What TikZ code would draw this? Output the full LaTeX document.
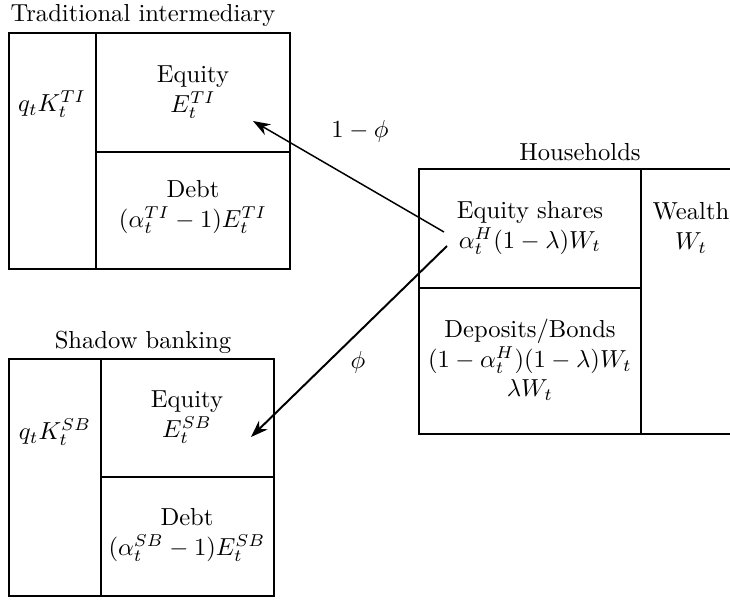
\documentclass[tikz,border=0pt]{standalone}
\usepackage{tikz}
\usetikzlibrary{arrows.meta,positioning,calc}
\usepackage{amsmath}

\begin{document}
\begin{tikzpicture}[
  x=0.01428cm, y=-0.01428cm,
  cell/.style={draw=black, line width=0.45pt},
  txt/.style={align=center, inner sep=1pt},
  ttl/.style={inner sep=1pt},
  arr/.style={-{Stealth[length=7pt,width=5pt]}, semithick},
  barr/.style={-{Stealth[length=7pt,width=5pt]}, thick},
  lbl/.style={inner sep=1pt},
  >=Stealth
]
\useasboundingbox (0,0) rectangle (730,599);

% Traditional intermediary
\draw[cell] (9,33) rectangle (290,269);
\draw[cell] (96,33) -- (96,269);
\draw[cell] (96,152) -- (290,152);
\node[ttl] (ti_title) at (143,15)  {Traditional intermediary};
\node[txt] (ti_k)     at (52,104)  {$q_tK_t^{TI}$};
\node[txt] (ti_eq)    at (193,92)  {Equity\\$E_t^{TI}$};
\node[txt] (ti_debt)  at (193,207) {Debt\\$(\alpha_t^{TI}-1)E_t^{TI}$};

% Shadow banking
\draw[cell] (9,359) rectangle (274,596);
\draw[cell] (101,359) -- (101,596);
\draw[cell] (101,477) -- (274,477);
\node[ttl] (sb_title) at (143,342) {Shadow banking};
\node[txt] (sb_k)     at (55,432)  {$q_tK_t^{SB}$};
\node[txt] (sb_eq)    at (187,417) {Equity\\$E_t^{SB}$};
\node[txt] (sb_debt)  at (187,535) {Debt\\$(\alpha_t^{SB}-1)E_t^{SB}$};

% Households
\draw[cell] (731,169) -- (419,169) -- (419,434) -- (731,434);
\draw[cell] (641,169) -- (641,434);
\draw[cell] (419,288) -- (641,288);
\node[ttl] (hh_title) at (580,152) {Households};
\node[txt] (hh_eq)    at (530,228) {Equity shares\\$\alpha_t^H(1-\lambda)W_t$};
\node[txt] (hh_w)     at (691,228) {Wealth\\$W_t$};
\node[txt] (hh_dep)   at (530,360) {Deposits/Bonds\\$(1-\alpha_t^H)(1-\lambda)W_t$\\$\lambda W_t$};

% Flows
\coordinate (out_ti) at (444,232);
\coordinate (out_sb) at (447,246);
\coordinate (in_ti)  at (253,121);
\coordinate (in_sb)  at (251,437);
\draw[arr]  (out_ti) -- (in_ti);
\draw[barr] (out_sb) -- (in_sb);
\node[lbl] (phi_ti) at (360,131) {$1-\phi$};
\node[lbl] (phi_sb) at (358,362) {$\phi$};

\end{tikzpicture}
\end{document}
